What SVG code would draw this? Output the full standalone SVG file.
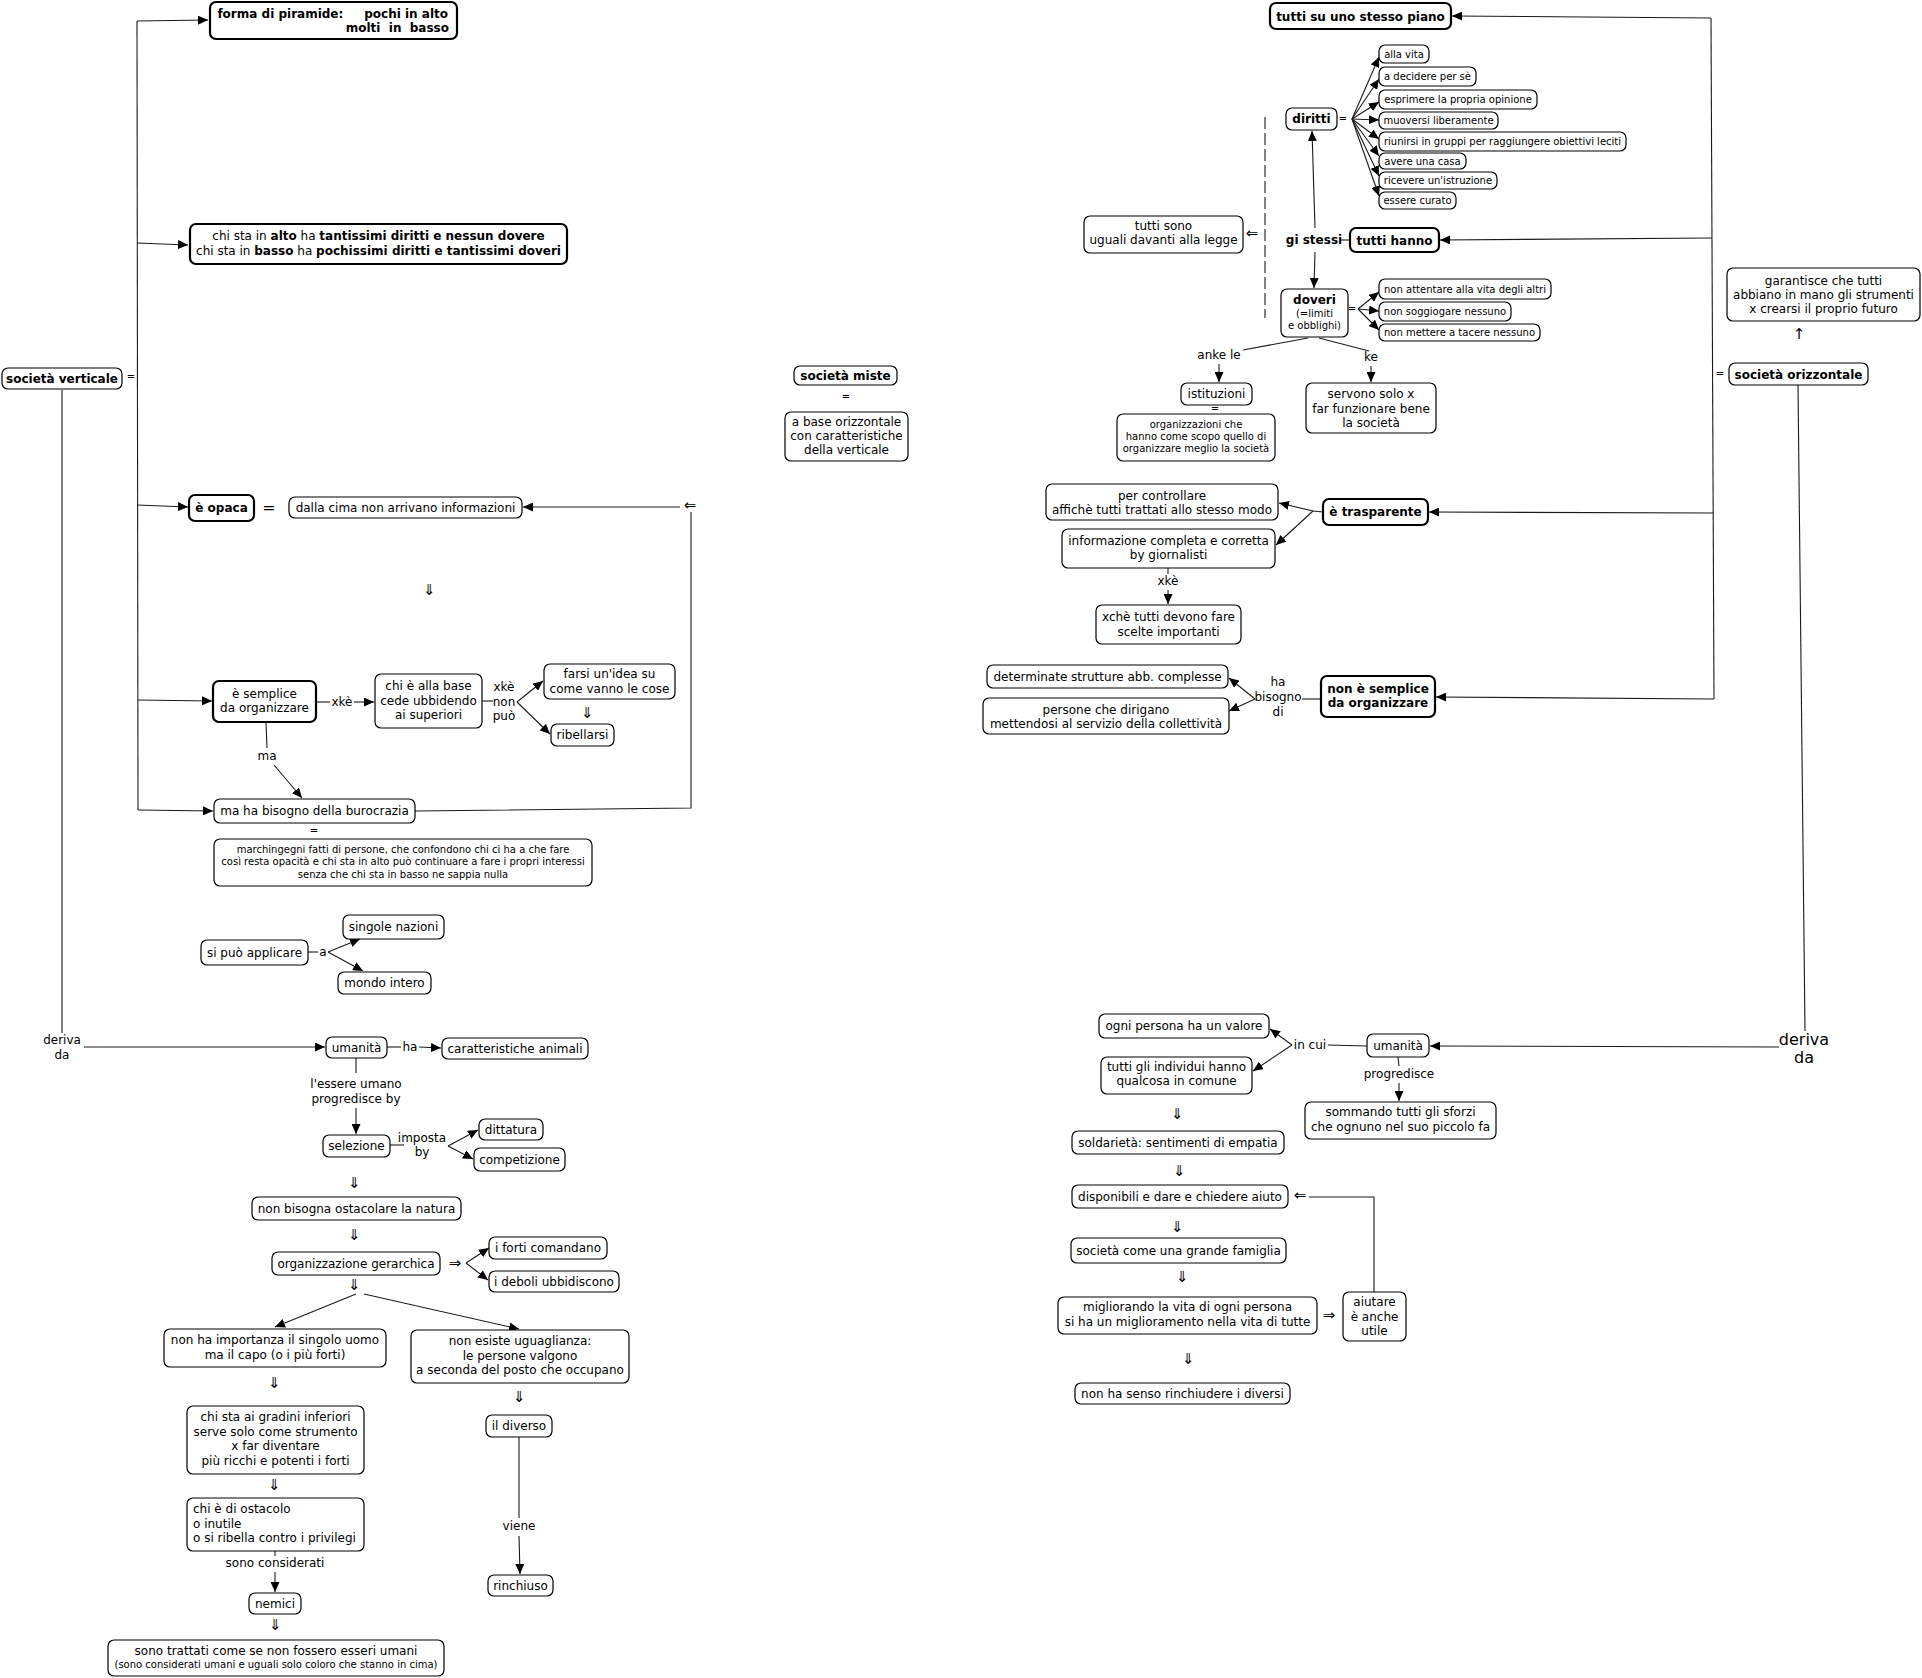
<svg xmlns="http://www.w3.org/2000/svg" width="1922" height="1678" viewBox="0 0 1922 1678">
<style>
text{font-family:"DejaVu Sans","Liberation Sans",Verdana,sans-serif;font-size:12px;fill:#000}
.c{text-anchor:middle}
.e{text-anchor:end}
.b{font-weight:bold}
.s{font-size:10px}
.big{font-size:16px}
.ar{font-family:"DejaVu Sans",sans-serif;font-size:15px;fill:#000}
.n{fill:#fff;stroke:#000;stroke-width:1.2}
.nb{fill:#fff;stroke:#000;stroke-width:2.2}
.l{fill:none;stroke:#1a1a1a;stroke-width:1.1}
.a{marker-end:url(#ah)}
.d{stroke-dasharray:12 4}
</style>
<defs>
<marker id="ah" markerWidth="10" markerHeight="9" refX="10" refY="4.5" orient="auto" markerUnits="userSpaceOnUse"><path d="M0,0 L10,4.5 L0,9 z" fill="#000"/></marker>
</defs>
<rect width="1922" height="1678" fill="#fff"/>

<g id="connectors">
<path class="l" d="M137,21 L138,810"/>
<path class="l a" d="M137,21 L208,20"/>
<path class="l a" d="M137,243 L188,245"/>
<path class="l a" d="M137,505 L188,507"/>
<path class="l a" d="M138,700 L212,701"/>
<path class="l a" d="M138,810 L213,811"/>
<path class="l" d="M62,390 L62,1033"/>
<path class="l a" d="M84,1047 L325,1047"/>
<path class="l" d="M387,1047 L401,1047"/>
<path class="l a" d="M419,1047 L441,1048"/>
<path class="l" d="M356,1058 L356,1073"/>
<path class="l a" d="M356,1108 L356,1134"/>
<path class="l" d="M390,1145 L404,1145"/>
<path class="l a" d="M448,1146 L478,1130"/>
<path class="l a" d="M448,1146 L473,1159"/>
<path class="l a" d="M466,1263 L489,1248"/>
<path class="l a" d="M466,1263 L488,1280"/>
<path class="l a" d="M356,1294 L275,1327"/>
<path class="l a" d="M364,1294 L519,1329"/>
<path class="l" d="M316,702 L330,702"/>
<path class="l a" d="M354,702 L374,702"/>
<path class="l" d="M482,701 L493,701"/>
<path class="l a" d="M517,702 L543,681"/>
<path class="l a" d="M517,702 L550,734"/>
<path class="l" d="M266,722 L267,748"/>
<path class="l a" d="M274,765 L302,798"/>
<path class="l" d="M415,811 L691,808 L691,512"/>
<path class="l a" d="M680,507 L523,507"/>
<path class="l" d="M308,952 L318,952"/>
<path class="l a" d="M328,952 L360,939"/>
<path class="l a" d="M328,952 L363,971"/>
<path class="l" d="M519,1437 L519,1518"/>
<path class="l a" d="M519,1536 L520,1574"/>
<path class="l" d="M275,1551 L275,1556"/>
<path class="l a" d="M275,1572 L275,1592"/>

<path class="l" d="M1711,18 L1714,699"/>
<path class="l a" d="M1711,18 L1452,16"/>
<path class="l a" d="M1712,238 L1440,240"/>
<path class="l a" d="M1713,513 L1429,512"/>
<path class="l a" d="M1714,699 L1436,697"/>
<path class="l" d="M1798,385 L1805,1031"/>
<path class="l a" d="M1779,1047 L1430,1046"/>
<path class="l" d="M1367,1046 L1328,1045"/>
<path class="l a" d="M1292,1045 L1270,1029"/>
<path class="l a" d="M1292,1045 L1253,1071"/>
<path class="l" d="M1398,1057 L1399,1066"/>
<path class="l a" d="M1399,1083 L1399,1101"/>
<path class="l" d="M1374,1292 L1374,1197 L1309,1197"/>
<path class="l a" d="M1352,119 L1379,57"/>
<path class="l a" d="M1352,119 L1379,79"/>
<path class="l a" d="M1352,119 L1379,102"/>
<path class="l a" d="M1352,119 L1379,120"/>
<path class="l a" d="M1352,119 L1379,139"/>
<path class="l a" d="M1352,119 L1379,156"/>
<path class="l a" d="M1352,119 L1379,176"/>
<path class="l a" d="M1352,119 L1379,196"/>
<path class="l a" d="M1315,228 L1312,131"/>
<path class="l a" d="M1315,252 L1314,288"/>
<path class="l" d="M1341,240 L1350,240"/>
<path class="l a" d="M1358,309 L1379,292"/>
<path class="l a" d="M1358,309 L1379,311"/>
<path class="l a" d="M1358,309 L1379,330"/>
<path class="l" d="M1308,338 L1243,350"/>
<path class="l a" d="M1219,364 L1219,382"/>
<path class="l" d="M1319,338 L1369,351"/>
<path class="l a" d="M1371,366 L1371,382"/>
<path class="l" d="M1323,512 L1313,511"/>
<path class="l a" d="M1313,511 L1279,503"/>
<path class="l a" d="M1313,511 L1276,545"/>
<path class="l" d="M1168,568 L1168,574"/>
<path class="l a" d="M1168,590 L1168,604"/>
<path class="l" d="M1321,699 L1302,699"/>
<path class="l a" d="M1255,699 L1229,678"/>
<path class="l a" d="M1255,699 L1229,711"/>
<path class="l d" d="M1265,117 L1265,318"/>
</g>

<g id="link-labels">
<text x="131" y="380" class="c s">=</text>
<text x="269" y="513" class="c big">=</text>
<text x="429" y="595" class="c ar">⇓</text>
<text x="342" y="706" class="c">xkè</text>
<text x="504" y="691" class="c">xkè</text>
<text x="504" y="706" class="c">non</text>
<text x="504" y="720" class="c">può</text>
<text x="587" y="718" class="c ar">⇓</text>
<text x="267" y="760" class="c">ma</text>
<text x="690" y="510" class="c ar">⇐</text>
<text x="314" y="834" class="c s">=</text>
<text x="323" y="956" class="c">a</text>
<text x="62" y="1044" class="c">deriva</text>
<text x="62" y="1059" class="c">da</text>
<text x="410" y="1051" class="c">ha</text>
<text x="356" y="1088" class="c">l'essere umano</text>
<text x="356" y="1103" class="c">progredisce by</text>
<text x="422" y="1142" class="c">imposta</text>
<text x="422" y="1156" class="c">by</text>
<text x="354" y="1188" class="c ar">⇓</text>
<text x="354" y="1240" class="c ar">⇓</text>
<text x="455" y="1268" class="c ar">⇒</text>
<text x="354" y="1290" class="c ar">⇓</text>
<text x="274" y="1388" class="c ar">⇓</text>
<text x="519" y="1402" class="c ar">⇓</text>
<text x="274" y="1490" class="c ar">⇓</text>
<text x="519" y="1530" class="c">viene</text>
<text x="275" y="1567" class="c">sono considerati</text>
<text x="275" y="1630" class="c ar">⇓</text>
<text x="846" y="400" class="c s">=</text>
<text x="1343" y="122" class="c s">=</text>
<text x="1252" y="238" class="c ar">⇐</text>
<text x="1314" y="244" class="c b">gi stessi</text>
<text x="1352" y="312" class="c s">=</text>
<text x="1219" y="359" class="c">anke le</text>
<text x="1371" y="361" class="c">ke</text>
<text x="1215" y="412" class="c s">=</text>
<text x="1168" y="585" class="c">xkè</text>
<text x="1278" y="686" class="c">ha</text>
<text x="1278" y="701" class="c">bisogno</text>
<text x="1278" y="716" class="c">di</text>
<text x="1799" y="339" class="c ar">↑</text>
<text x="1720" y="377" class="c s">=</text>
<text x="1804" y="1045" class="c big">deriva</text>
<text x="1804" y="1063" class="c big">da</text>
<text x="1310" y="1049" class="c">in cui</text>
<text x="1399" y="1078" class="c">progredisce</text>
<text x="1177" y="1119" class="c ar">⇓</text>
<text x="1179" y="1176" class="c ar">⇓</text>
<text x="1300" y="1200" class="c ar">⇐</text>
<text x="1177" y="1232" class="c ar">⇓</text>
<text x="1182" y="1282" class="c ar">⇓</text>
<text x="1329" y="1320" class="c ar">⇒</text>
<text x="1188" y="1364" class="c ar">⇓</text>
</g>

<g id="n-piramide"><rect class="nb" x="210" y="2" width="247" height="37" rx="6"/>
<text class="e b" x="448" y="17.5" xml:space="preserve">forma di piramide:     pochi in alto</text>
<text class="e b" x="449" y="32" xml:space="preserve">molti  in  basso</text></g>
<g id="n-chista"><rect class="nb" x="190" y="224" width="377" height="40" rx="6"/>
<text class="c" x="378.5" y="240">chi sta in <tspan class="b">alto</tspan> ha <tspan class="b">tantissimi diritti e nessun dovere</tspan></text>
<text class="c" x="378.5" y="255">chi sta in <tspan class="b">basso</tspan> ha <tspan class="b">pochissimi diritti e tantissimi doveri</tspan></text></g>
<g id="n-sv"><rect class="n" x="2" y="368" width="120" height="21" rx="6"/><text class="c b" x="62" y="383">società verticale</text></g>
<g id="n-opaca"><rect class="nb" x="189" y="495" width="65" height="26" rx="6"/><text class="c b" x="221.5" y="512">è opaca</text></g>
<g id="n-dalla"><rect class="n" x="289" y="497" width="233" height="21" rx="6"/><text class="c" x="405.5" y="511.5">dalla cima non arrivano informazioni</text></g>
<g id="n-semplice"><rect class="nb" x="213" y="681" width="103" height="41" rx="6"/><text class="c" x="264.5" y="698">è semplice</text><text class="c" x="264.5" y="712">da organizzare</text></g>
<g id="n-base"><rect class="n" x="375" y="674" width="107" height="54" rx="6"/><text class="c" x="428.5" y="690">chi è alla base</text><text class="c" x="428.5" y="704.5">cede ubbidendo</text><text class="c" x="428.5" y="719">ai superiori</text></g>
<g id="n-farsi"><rect class="n" x="544" y="664" width="131" height="35" rx="6"/><text class="c" x="609.5" y="678">farsi un'idea su</text><text class="c" x="609.5" y="693">come vanno le cose</text></g>
<g id="n-ribellarsi"><rect class="n" x="551" y="724" width="63" height="22" rx="6"/><text class="c" x="582.5" y="739">ribellarsi</text></g>
<g id="n-burocrazia"><rect class="n" x="214" y="799" width="201" height="24" rx="6"/><text class="c" x="314.5" y="815">ma ha bisogno della burocrazia</text></g>
<g id="n-marchingegni"><rect class="n" x="214" y="839" width="378" height="47" rx="6"/>
<text class="c s" x="403" y="852.5">marchingegni fatti di persone, che confondono chi ci ha a che fare</text>
<text class="c s" x="403" y="865">così resta opacità e chi sta in alto può continuare a fare i propri interessi</text>
<text class="c s" x="403" y="877.5">senza che chi sta in basso ne sappia nulla</text></g>
<g id="n-applicare"><rect class="n" x="201" y="940" width="107" height="25" rx="6"/><text class="c" x="254.5" y="956.5">si può applicare</text></g>
<g id="n-singole"><rect class="n" x="343" y="915" width="101" height="24" rx="6"/><text class="c" x="393.5" y="931">singole nazioni</text></g>
<g id="n-mondo"><rect class="n" x="338" y="972" width="93" height="22" rx="6"/><text class="c" x="384.5" y="987">mondo intero</text></g>
<g id="n-umanita-l"><rect class="n" x="326" y="1037" width="61" height="21" rx="6"/><text class="c" x="356.5" y="1051.5">umanità</text></g>
<g id="n-caratteristiche"><rect class="n" x="442" y="1038" width="146" height="21" rx="6"/><text class="c" x="515" y="1052.5">caratteristiche animali</text></g>
<g id="n-selezione"><rect class="n" x="323" y="1135" width="67" height="22" rx="6"/><text class="c" x="356.5" y="1150">selezione</text></g>
<g id="n-dittatura"><rect class="n" x="479" y="1119" width="64" height="21" rx="6"/><text class="c" x="511" y="1133.5">dittatura</text></g>
<g id="n-competizione"><rect class="n" x="474" y="1148" width="91" height="23" rx="6"/><text class="c" x="519.5" y="1163.5">competizione</text></g>
<g id="n-natura"><rect class="n" x="252" y="1197" width="209" height="23" rx="6"/><text class="c" x="356.5" y="1212.5">non bisogna ostacolare la natura</text></g>
<g id="n-gerarchica"><rect class="n" x="272" y="1252" width="168" height="23" rx="6"/><text class="c" x="356" y="1267.5">organizzazione gerarchica</text></g>
<g id="n-forti"><rect class="n" x="489" y="1237" width="118" height="22" rx="6"/><text class="c" x="548" y="1252">i forti comandano</text></g>
<g id="n-deboli"><rect class="n" x="489" y="1271" width="130" height="21" rx="6"/><text class="c" x="554" y="1285.5">i deboli ubbidiscono</text></g>
<g id="n-singolo"><rect class="n" x="164" y="1329" width="222" height="38" rx="6"/><text class="c" x="275" y="1344">non ha importanza il singolo uomo</text><text class="c" x="275" y="1359">ma il capo (o i più forti)</text></g>
<g id="n-uguaglianza"><rect class="n" x="411" y="1330" width="218" height="53" rx="6"/><text class="c" x="520" y="1345">non esiste uguaglianza:</text><text class="c" x="520" y="1360">le persone valgono</text><text class="c" x="520" y="1374">a seconda del posto che occupano</text></g>
<g id="n-gradini"><rect class="n" x="187" y="1406" width="177" height="68" rx="6"/><text class="c" x="275.5" y="1421">chi sta ai gradini inferiori</text><text class="c" x="275.5" y="1435.5">serve solo come strumento</text><text class="c" x="275.5" y="1450">x far diventare</text><text class="c" x="275.5" y="1465">più ricchi e potenti i forti</text></g>
<g id="n-diverso"><rect class="n" x="486" y="1415" width="66" height="22" rx="6"/><text class="c" x="519" y="1430">il diverso</text></g>
<g id="n-rinchiuso"><rect class="n" x="488" y="1575" width="65" height="21" rx="6"/><text class="c" x="520.5" y="1589.5">rinchiuso</text></g>
<g id="n-ostacolo"><rect class="n" x="187" y="1498" width="177" height="53" rx="6"/><text x="193" y="1513">chi è di ostacolo</text><text x="193" y="1527.5">o inutile</text><text x="193" y="1542">o si ribella contro i privilegi</text></g>
<g id="n-nemici"><rect class="n" x="249" y="1593" width="52" height="21" rx="6"/><text class="c" x="275" y="1607.5">nemici</text></g>
<g id="n-trattati"><rect class="n" x="108" y="1640" width="336" height="36" rx="6"/><text class="c" x="276" y="1655">sono trattati come se non fossero esseri umani</text><text class="c s" x="276" y="1668">(sono considerati umani e uguali solo coloro che stanno in cima)</text></g>

<g id="n-miste"><rect class="n" x="794" y="366" width="103" height="19" rx="6"/><text class="c b" x="845.5" y="380">società miste</text></g>
<g id="n-abase"><rect class="n" x="785" y="412" width="123" height="49" rx="6"/><text class="c" x="846.5" y="425.5">a base orizzontale</text><text class="c" x="846.5" y="439.5">con caratteristiche</text><text class="c" x="846.5" y="453.5">della verticale</text></g>

<g id="n-piano"><rect class="nb" x="1270" y="3" width="181" height="26" rx="6"/><text class="c b" x="1360.5" y="20.5">tutti su uno stesso piano</text></g>
<g id="n-diritti"><rect class="n" x="1286" y="108" width="51" height="22" rx="6"/><text class="c b" x="1311.5" y="123">diritti</text></g>
<g id="n-vita"><rect class="n" x="1379" y="45" width="50" height="18" rx="6"/><text class="c s" x="1404" y="57.5">alla vita</text></g>
<g id="n-decidere"><rect class="n" x="1379" y="67" width="97" height="19" rx="6"/><text class="c s" x="1427.5" y="80">a decidere per sè</text></g>
<g id="n-esprimere"><rect class="n" x="1379" y="90" width="158" height="19" rx="6"/><text class="c s" x="1458" y="103">esprimere la propria opinione</text></g>
<g id="n-muoversi"><rect class="n" x="1379" y="112" width="119" height="17" rx="6"/><text class="c s" x="1438.5" y="124">muoversi liberamente</text></g>
<g id="n-riunirsi"><rect class="n" x="1379" y="132" width="247" height="19" rx="6"/><text class="c s" x="1502.5" y="145">riunirsi in gruppi per raggiungere obiettivi leciti</text></g>
<g id="n-casa"><rect class="n" x="1379" y="153" width="87" height="16" rx="6"/><text class="c s" x="1422.5" y="164.5">avere una casa</text></g>
<g id="n-istruzione"><rect class="n" x="1379" y="172" width="118" height="17" rx="6"/><text class="c s" x="1438" y="184">ricevere un'istruzione</text></g>
<g id="n-curato"><rect class="n" x="1379" y="192" width="77" height="17" rx="6"/><text class="c s" x="1417.5" y="204">essere curato</text></g>
<g id="n-tuttisono"><rect class="n" x="1084" y="216" width="159" height="37" rx="6"/><text class="c" x="1163.5" y="230">tutti sono</text><text class="c" x="1163.5" y="244">uguali davanti alla legge</text></g>
<g id="n-tuttihanno"><rect class="nb" x="1350" y="228" width="89" height="24" rx="6"/><text class="c b" x="1394.5" y="244.5">tutti hanno</text></g>
<g id="n-doveri"><rect class="n" x="1281" y="289" width="67" height="48" rx="6"/><text class="c b" x="1314.5" y="304">doveri</text><text class="c s" x="1314.5" y="316.5">(=limiti</text><text class="c s" x="1314.5" y="328.5">e obblighi)</text></g>
<g id="n-attentare"><rect class="n" x="1379" y="279" width="172" height="20" rx="6"/><text class="c s" x="1465" y="292.5">non attentare alla vita degli altri</text></g>
<g id="n-soggiogare"><rect class="n" x="1379" y="302" width="132" height="19" rx="6"/><text class="c s" x="1445" y="315">non soggiogare nessuno</text></g>
<g id="n-tacere"><rect class="n" x="1379" y="324" width="161" height="17" rx="6"/><text class="c s" x="1459.5" y="336">non mettere a tacere nessuno</text></g>
<g id="n-istituzioni"><rect class="n" x="1181" y="383" width="71" height="22" rx="6"/><text class="c" x="1216.5" y="398">istituzioni</text></g>
<g id="n-organizzazioni"><rect class="n" x="1117" y="414" width="158" height="47" rx="6"/><text class="c s" x="1196" y="427.5">organizzazioni che</text><text class="c s" x="1196" y="439.5">hanno come scopo quello di</text><text class="c s" x="1196" y="451.5">organizzare meglio la società</text></g>
<g id="n-servono"><rect class="n" x="1306" y="383" width="130" height="50" rx="6"/><text class="c" x="1371" y="398">servono solo x</text><text class="c" x="1371" y="412.5">far funzionare bene</text><text class="c" x="1371" y="427">la società</text></g>
<g id="n-trasparente"><rect class="nb" x="1323" y="499" width="105" height="26" rx="6"/><text class="c b" x="1375.5" y="516">è trasparente</text></g>
<g id="n-controllare"><rect class="n" x="1046" y="484" width="232" height="36" rx="6"/><text class="c" x="1162" y="500">per controllare</text><text class="c" x="1162" y="513.5">affichè tutti trattati allo stesso modo</text></g>
<g id="n-informazione"><rect class="n" x="1062" y="529" width="213" height="39" rx="6"/><text class="c" x="1168.5" y="545">informazione completa e corretta</text><text class="c" x="1168.5" y="559">by giornalisti</text></g>
<g id="n-xche"><rect class="n" x="1096" y="605" width="145" height="39" rx="6"/><text class="c" x="1168.5" y="621">xchè tutti devono fare</text><text class="c" x="1168.5" y="635.5">scelte importanti</text></g>
<g id="n-determinate"><rect class="n" x="987" y="665" width="241" height="23" rx="6"/><text class="c" x="1107.5" y="680.5">determinate strutture abb. complesse</text></g>
<g id="n-persone"><rect class="n" x="983" y="698" width="246" height="36" rx="6"/><text class="c" x="1106" y="714">persone che dirigano</text><text class="c" x="1106" y="728">mettendosi al servizio della collettività</text></g>
<g id="n-nonsemplice"><rect class="nb" x="1321" y="676" width="114" height="41" rx="6"/><text class="c b" x="1378" y="693">non è semplice</text><text class="c b" x="1378" y="707">da organizzare</text></g>
<g id="n-garantisce"><rect class="n" x="1727" y="268" width="193" height="53" rx="6"/><text class="c" x="1823.5" y="285">garantisce che tutti</text><text class="c" x="1823.5" y="299">abbiano in mano gli strumenti</text><text class="c" x="1823.5" y="312.5">x crearsi il proprio futuro</text></g>
<g id="n-orizzontale"><rect class="n" x="1729" y="363" width="139" height="22" rx="6"/><text class="c b" x="1798.5" y="378.5">società orizzontale</text></g>
<g id="n-ogni"><rect class="n" x="1099" y="1014" width="170" height="24" rx="6"/><text class="c" x="1184" y="1030">ogni persona ha un valore</text></g>
<g id="n-individui"><rect class="n" x="1101" y="1057" width="151" height="37" rx="6"/><text class="c" x="1176.5" y="1071">tutti gli individui hanno</text><text class="c" x="1176.5" y="1085">qualcosa in comune</text></g>
<g id="n-umanita-r"><rect class="n" x="1367" y="1034" width="62" height="23" rx="6"/><text class="c" x="1398" y="1049.5">umanità</text></g>
<g id="n-sommando"><rect class="n" x="1305" y="1102" width="191" height="37" rx="6"/><text class="c" x="1400.5" y="1116">sommando tutti gli sforzi</text><text class="c" x="1400.5" y="1131">che ognuno nel suo piccolo fa</text></g>
<g id="n-solidarieta"><rect class="n" x="1072" y="1131" width="212" height="23" rx="6"/><text class="c" x="1178" y="1146.5">soldarietà: sentimenti di empatia</text></g>
<g id="n-disponibili"><rect class="n" x="1072" y="1185" width="216" height="23" rx="6"/><text class="c" x="1180" y="1200.5">disponibili e dare e chiedere aiuto</text></g>
<g id="n-famiglia"><rect class="n" x="1071" y="1238" width="215" height="25" rx="6"/><text class="c" x="1178.5" y="1254.5">società come una grande famiglia</text></g>
<g id="n-migliorando"><rect class="n" x="1058" y="1297" width="259" height="37" rx="6"/><text class="c" x="1187.5" y="1311">migliorando la vita di ogni persona</text><text class="c" x="1187.5" y="1326">si ha un miglioramento nella vita di tutte</text></g>
<g id="n-aiutare"><rect class="n" x="1343" y="1292" width="63" height="49" rx="6"/><text class="c" x="1374.5" y="1306">aiutare</text><text class="c" x="1374.5" y="1320.5">è anche</text><text class="c" x="1374.5" y="1335">utile</text></g>
<g id="n-rinchiudere"><rect class="n" x="1075" y="1383" width="215" height="21" rx="6"/><text class="c" x="1182.5" y="1397.5">non ha senso rinchiudere i diversi</text></g>
</svg>
